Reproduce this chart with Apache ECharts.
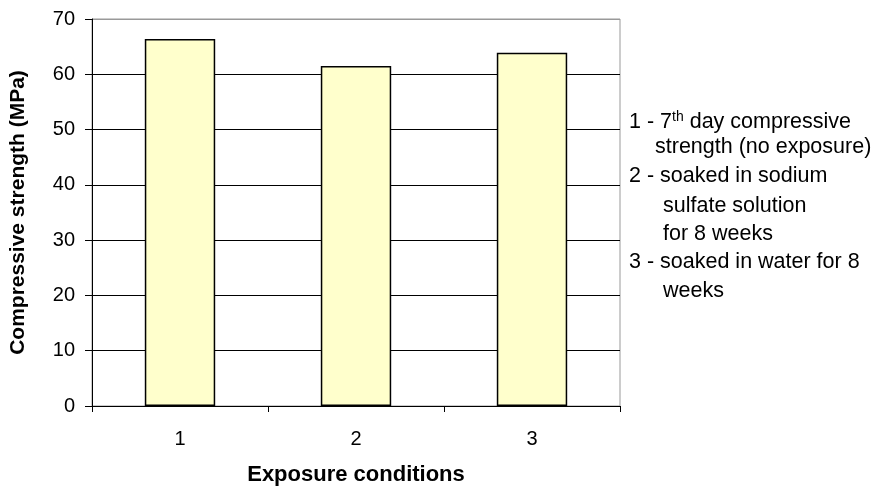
<!DOCTYPE html>
<html>
<head>
<meta charset="utf-8">
<script src="https://cdn.jsdelivr.net/npm/echarts@6/dist/echarts.min.js"></script>
<style>
html,body{margin:0;padding:0;background:#fff;}
#chart{width:877px;height:491px;}
</style>
</head>
<body>
<div id="chart"></div>
<script>
const categories = ['1', '2', '3'];
const strengthValues = [66.4, 61.5, 63.9];
const yTicks = [0, 10, 20, 30, 40, 50, 60, 70];
const legendLines = [
  '{a|1 - 7}{sup|th}{a| day compressive}',
  'strength (no exposure)',
  '2 - soaked in sodium',
  'sulfate solution',
  'for 8 weeks',
  '3 - soaked in water for 8',
  'weeks'
];

const FONT = 'Liberation Sans, Arial, sans-serif';
const chart = echarts.init(document.getElementById('chart'), null, {renderer: 'canvas'});

const lineTops = [121.7, 148.3, 177.3, 206.7, 235, 263.3, 291.7];
const lineX = [629, 655, 629, 663, 663, 629, 663];
const graphics = legendLines.map((t, i) => ({
  type: 'text',
  left: lineX[i],
  top: lineTops[i] - 12,
  style: {
    text: t,
    font: '21.5px ' + FONT,
    fill: '#000',
    rich: {
      a: {fontSize: 21.5, fontFamily: FONT, color: '#000', lineHeight: 24},
      sup: {fontSize: 14, fontFamily: FONT, color: '#000', verticalAlign: 'top', lineHeight: 24}
    }
  }
}));

const splitColors = yTicks.map((v, i) => i === yTicks.length - 1 ? '#999999' : '#000000');

chart.setOption({
  animation: false,
  backgroundColor: '#ffffff',
  grid: {
    left: 86, right: 257, top: 19, bottom: 85,
    show: true, borderColor: '#999999', borderWidth: 1, backgroundColor: 'transparent'
  },
  xAxis: {
    type: 'category',
    data: categories,
    boundaryGap: true,
    name: 'Exposure conditions',
    nameLocation: 'middle',
    nameGap: 58,
    nameTextStyle: {fontFamily: FONT, fontWeight: 'bold', fontSize: 22, color: '#000'},
    axisLine: {lineStyle: {color: '#000', width: 1}},
    axisTick: {show: true, length: 6, lineStyle: {color: '#000'}},
    axisLabel: {fontFamily: FONT, fontSize: 20, color: '#000', margin: 23}
  },
  yAxis: {
    type: 'value',
    min: 0, max: 70, interval: 10,
    name: 'Compressive strength (MPa)',
    nameLocation: 'middle',
    nameGap: 63,
    nameTextStyle: {fontFamily: FONT, fontWeight: 'bold', fontSize: 21, color: '#000'},
    axisLine: {show: true, lineStyle: {color: '#000', width: 1}},
    axisTick: {show: true, length: 7, lineStyle: {color: '#000'}},
    axisLabel: {fontFamily: FONT, fontSize: 20, color: '#000', margin: 17},
    splitLine: {show: true, lineStyle: {color: splitColors, width: 1}}
  },
  series: [{
    type: 'bar',
    data: strengthValues,
    barWidth: '40%',
    itemStyle: {color: '#FFFFCC', borderColor: '#000', borderWidth: 1.5}
  }],
  graphic: graphics
});
</script>
</body>
</html>
